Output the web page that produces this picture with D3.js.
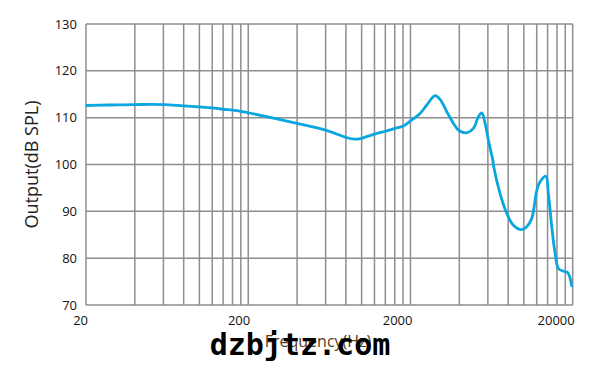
<!DOCTYPE html>
<html>
<head>
<meta charset="utf-8">
<script src="https://cdn.jsdelivr.net/npm/d3@7"></script>
<style>
  html, body { margin: 0; padding: 0; background: #fff; }
  svg { display: block; }
</style>
</head>
<body>
<svg id="chart" width="604" height="369"></svg>
<script>
// ---- data ----
const freqHz = [10, 14, 20, 30, 40, 50, 60, 70, 80, 90, 100, 200, 300, 400, 450, 500, 600, 700, 823, 904,
  1000, 1146, 1260, 1418, 1522, 1674, 1839, 2000, 2243, 2443, 2622, 2752, 2884, 3022, 3217, 3260,
  3567, 3925, 4307, 4856, 5213, 5598, 6006, 6295, 6825, 7080, 7430, 7790, 8165, 8770, 9330, 9874];
const outputDb = [112.6, 112.7, 112.8, 112.8, 112.5, 112.3, 112.1, 111.8, 111.6, 111.35, 111.05, 108.8, 107.35, 105.8, 105.4, 105.6, 106.5, 107.1, 107.8, 108.2,
  109.3, 110.9, 112.7, 114.7, 113.9, 111.3, 108.8, 107.2, 106.8, 107.7, 110.2, 111.0, 108.8, 105.2, 100.9, 99.5,
  93.8, 89.55, 87.05, 86.1, 86.7, 88.5, 94.5, 96.3, 97.5, 93.8, 86.7, 81.0, 77.8, 77.2, 76.9, 73.9];

const yTicks = [70, 80, 90, 100, 110, 120, 130];
const xTickLabels = ["20", "200", "2000", "20000"];
const xTickAt = [10, 100, 1000, 10000];
const xGridMultipliers = [1, 2, 3, 4, 5, 6, 7, 8, 9];
const xGridDecades = [10, 100, 1000];

const xLabel = "Frequency(Hz)";
const yLabel = "Output(dB SPL)";
const watermark = "dzbjtz.com";

// ---- layout ----
const margin = { left: 86, right: 31.3, top: 24, bottom: 64 };
const W = 604, H = 369;
const svg = d3.select("#chart");

const x = d3.scaleLog().domain([10, 10000]).range([margin.left, W - margin.right]);
const y = d3.scaleLinear().domain([70, 130]).range([H - margin.bottom, margin.top]);

const gridColor = "#8e8e8e";
const font = "'Open Sans', 'Noto Sans', sans-serif";

// vertical grid
const vLines = [];
xGridDecades.forEach(d => xGridMultipliers.forEach(m => vLines.push(d * m)));
vLines.push(10000);
svg.append("g").selectAll("line").data(vLines).join("line")
  .attr("x1", d => x(d)).attr("x2", d => x(d))
  .attr("y1", y(70)).attr("y2", y(130))
  .attr("stroke", gridColor).attr("stroke-width", 1.5);

// horizontal grid
svg.append("g").selectAll("line").data(yTicks).join("line")
  .attr("x1", x(10)).attr("x2", x(10000))
  .attr("y1", d => y(d)).attr("y2", d => y(d))
  .attr("stroke", gridColor).attr("stroke-width", 1.5);

// y axis labels
svg.append("g").selectAll("text").data(yTicks).join("text")
  .attr("x", margin.left - 9)
  .attr("y", d => y(d))
  .attr("dy", "0.35em")
  .attr("text-anchor", "end")
  .attr("font-family", font).attr("font-size", 13).attr("fill", "#111")
  .text(d => d);

// x axis labels
svg.append("g").selectAll("text").data(xTickAt).join("text")
  .attr("x", d => x(d) + 2)
  .attr("y", y(70) + 20)
  .attr("text-anchor", "end")
  .attr("font-family", font).attr("font-size", 13).attr("fill", "#111")
  .text((d, i) => xTickLabels[i]);

// axis titles
svg.append("text")
  .attr("transform", `translate(38, ${(y(70) + y(130)) / 2}) rotate(-90)`)
  .attr("text-anchor", "middle")
  .attr("font-family", font).attr("font-size", 18).attr("fill", "#222")
  .text(yLabel);

svg.append("text")
  .attr("x", 318).attr("y", 347)
  .attr("text-anchor", "middle")
  .attr("font-family", font).attr("font-size", 16).attr("fill", "#5a3a20")
  .text(xLabel);

// curve
const line = d3.line()
  .x((d, i) => x(freqHz[i]))
  .y(d => y(d))
  .curve(d3.curveCatmullRom.alpha(0.5));
svg.append("path")
  .datum(outputDb)
  .attr("d", line)
  .attr("fill", "none")
  .attr("stroke", "#0aa6df")
  .attr("stroke-width", 2.8)
  .attr("stroke-linejoin", "round");

// watermark
svg.append("text")
  .attr("x", 300).attr("y", 355)
  .attr("text-anchor", "middle")
  .attr("font-family", "'DejaVu Sans Mono', monospace")
  .attr("font-weight", "bold")
  .attr("font-size", 30)
  .attr("fill", "#000")
  .text(watermark);
</script>
</body>
</html>
